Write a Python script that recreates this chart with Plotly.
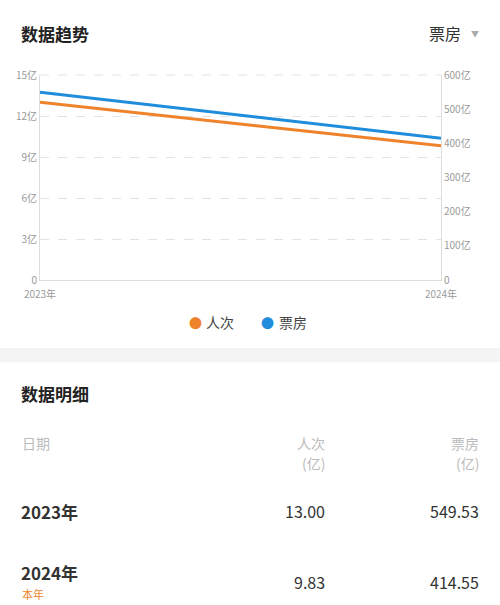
import plotly.graph_objects as go

years = ["2023年", "2024年"]
renci = [13.00, 9.83]        # 人次 (亿)
piaofang = [549.53, 414.55]  # 票房 (亿)

left_ticks = [0, 3, 6, 9, 12, 15]
left_labels = ["0", "3亿", "6亿", "9亿", "12亿", "15亿"]
right_ticks = [0, 100, 200, 300, 400, 500, 600]
right_labels = ["0", "100亿", "200亿", "300亿", "400亿", "500亿", "600亿"]

ORANGE = "#EE832B"
BLUE = "#1F8DDB"
FONT = "Noto Sans CJK SC"

W, H = 500, 605
L, R, T, B = 40, 59, 75, 325
PW, PH = W - L - R, H - T - B


def px(x):
    return (x - L) / PW


def py(y):
    return (H - B - y) / PH


fig = go.Figure()
fig.add_trace(go.Scatter(x=years, y=renci, mode="lines", name="人次",
                         line=dict(color=ORANGE, width=3), yaxis="y"))
fig.add_trace(go.Scatter(x=years, y=piaofang, mode="lines", name="票房",
                         line=dict(color=BLUE, width=3), yaxis="y2"))

tick_font = dict(family=FONT, size=10, color="#9a9a9a")
fig.update_layout(
    width=W, height=H,
    margin=dict(l=L, r=R, t=T, b=B),
    paper_bgcolor="white", plot_bgcolor="white",
    font=dict(family=FONT),
    showlegend=False,
    xaxis=dict(type="category", range=[0, 1], showgrid=False, showline=True,
               linecolor="#dddddd", tickfont=tick_font, ticks="", ticklabelstandoff=5),
    yaxis=dict(range=[0, 15], tickvals=left_ticks, ticktext=left_labels,
               showgrid=True, gridcolor="#e3e3e3", griddash="dash", zeroline=False,
               showline=True, linecolor="#dddddd", tickfont=tick_font, ticks=""),
    yaxis2=dict(range=[0, 600], tickvals=right_ticks, ticktext=right_labels,
                overlaying="y", side="right", showgrid=False, zeroline=False,
                showline=True, linecolor="#dddddd", tickfont=tick_font, ticks=""),
)

# top dashed grid line (plotly skips the one at the edge)
fig.add_shape(type="line", xref="paper", yref="paper", x0=0, x1=1, y0=1, y1=1,
              line=dict(color="#e3e3e3", width=1, dash="dash"), layer="below")

# grey separator band
fig.add_shape(type="rect", xref="paper", yref="paper", x0=px(0), x1=px(W),
              y0=py(362), y1=py(348), fillcolor="#f4f4f4", line=dict(width=0), layer="below")


def txt(s, x, y, size, color, anchor="left", bold=False):
    fig.add_annotation(text=f"<b>{s}</b>" if bold else s, x=px(x), y=py(y),
                       xref="paper", yref="paper", xanchor=anchor, yanchor="middle",
                       showarrow=False, font=dict(family=FONT, size=size, color=color))


txt("数据趋势", 19, 33, 17, "#222222", bold=True)
txt("票房", 463, 33, 16, "#333333", anchor="right")
txt("▼", 481, 33, 8, "#aaaaaa", anchor="right")

# legend
txt("●", 195, 322, 13, ORANGE, anchor="center")
txt("人次", 204, 322, 14, "#444444")
txt("●", 267, 322, 13, BLUE, anchor="center")
txt("票房", 277, 322, 14, "#444444")

txt("数据明细", 19, 393, 17, "#222222", bold=True)
txt("日期", 20, 443, 14, "#bbbbbb")
txt("人次", 327, 443, 14, "#bbbbbb", anchor="right")
txt("(亿)", 327, 463, 14, "#bbbbbb", anchor="right")
txt("票房", 481, 443, 14, "#bbbbbb", anchor="right")
txt("(亿)", 481, 463, 14, "#bbbbbb", anchor="right")

row_y = [511, 572]
val_y = [511, 582]
for i, yr in enumerate(years):
    txt(yr, 19, row_y[i], 17, "#333333", bold=True)
    txt(f"{renci[i]:.2f}", 327, val_y[i], 16, "#333333", anchor="right")
    txt(f"{piaofang[i]:.2f}", 481, val_y[i], 16, "#333333", anchor="right")
txt("本年", 20, 594, 11, ORANGE)

fig.write_html("out.html", config={"displayModeBar": False},
               post_script="document.body.style.margin='0';document.body.style.overflow='hidden';")
